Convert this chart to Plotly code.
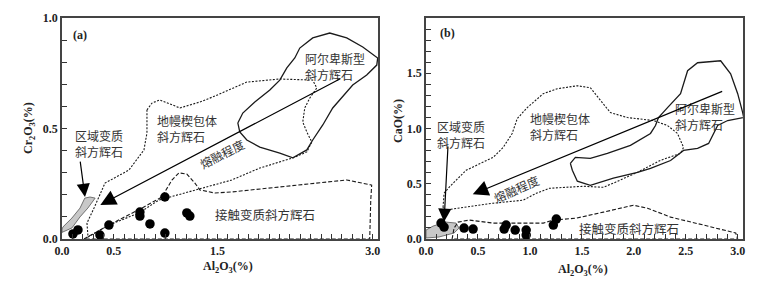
import plotly.graph_objects as go

# ---------------- data: samples ----------------
al_a = [0.106, 0.154, 0.366, 0.453, 0.752, 0.752, 0.849, 0.993, 0.993, 1.205, 1.234]
cr_a = [0.023, 0.041, 0.018, 0.063, 0.122, 0.104, 0.068, 0.190, 0.027, 0.118, 0.104]
al_b = [0.145, 0.174, 0.366, 0.453, 0.771, 0.752, 0.858, 0.964, 0.964, 1.225, 1.254]
cao_b = [0.144, 0.108, 0.099, 0.090, 0.126, 0.090, 0.081, 0.081, 0.036, 0.126, 0.180]

# ---------------- data: field outlines, panel (a) ----------------
alp_a_x = [1.697, 1.745, 1.861, 2.006, 2.102, 2.170, 2.247, 2.295, 2.420, 2.584, 2.748, 2.903, 3.047,
           3.038, 2.941, 2.806, 2.613, 2.517, 2.420, 2.363, 2.228, 2.102, 1.909, 1.784, 1.716, 1.697]
alp_a_y = [0.525, 0.570, 0.620, 0.674, 0.719, 0.774, 0.819, 0.864, 0.910, 0.932, 0.910, 0.869, 0.819,
           0.787, 0.742, 0.697, 0.593, 0.516, 0.448, 0.403, 0.367, 0.389, 0.416, 0.448, 0.484, 0.525]

man_a_x = [0.820, 0.868, 0.945, 1.138, 1.331, 1.456, 1.784, 2.102, 2.420, 2.459, 2.392, 2.343, 2.324,
           2.363, 2.411, 2.363, 2.228, 1.909, 1.639, 1.283, 0.935, 0.743, 0.453, 0.251, 0.241, 0.309,
           0.357, 0.415, 0.646, 0.791, 0.820, 0.820]
man_a_y = [0.584, 0.615, 0.629, 0.593, 0.620, 0.643, 0.710, 0.724, 0.719, 0.683, 0.638, 0.593, 0.529,
           0.484, 0.439, 0.394, 0.367, 0.321, 0.267, 0.222, 0.176, 0.118, 0.063, 0.009, 0.072, 0.140,
           0.190, 0.253, 0.312, 0.403, 0.480, 0.584]

con_a_x = [0.212, 0.453, 0.771, 0.964, 1.061, 1.128, 1.205, 1.283, 1.331, 1.475, 1.639, 2.102, 2.488,
           2.748, 2.989, 2.980, 2.970, 0.212]
con_a_y = [0.000, 0.063, 0.140, 0.190, 0.267, 0.299, 0.294, 0.253, 0.222, 0.208, 0.213, 0.235, 0.253,
           0.267, 0.244, 0.176, 0.000, 0.000]

reg_a_x = [0.000, 0.096, 0.174, 0.250, 0.320, 0.270, 0.220, 0.174, 0.096, 0.010, 0.000, 0.000]
reg_a_y = [0.030, 0.050, 0.100, 0.140, 0.185, 0.190, 0.185, 0.140, 0.095, 0.055, 0.045, 0.030]

# ---------------- data: field outlines, panel (b) ----------------
alp_b_x = [1.389, 1.437, 1.581, 1.745, 1.967, 2.160, 2.208, 2.237, 2.324, 2.449, 2.517, 2.613, 2.835,
           2.931, 2.999, 3.028, 3.047, 3.057, 2.903, 2.806, 2.768, 2.719, 2.613, 2.478, 2.353, 2.160,
           2.035, 1.803, 1.581, 1.456, 1.408, 1.389]
alp_b_y = [0.685, 0.739, 0.730, 0.775, 0.847, 0.955, 1.027, 1.099, 1.189, 1.315, 1.523, 1.595, 1.613,
           1.495, 1.315, 1.225, 1.144, 1.099, 1.072, 1.027, 0.955, 0.865, 0.820, 0.802, 0.710, 0.640,
           0.604, 0.550, 0.486, 0.523, 0.622, 0.685]

man_b_x = [0.164, 0.174, 0.222, 0.386, 0.646, 0.743, 0.829, 0.878, 0.974, 1.128, 1.263, 1.456, 1.581,
           1.678, 1.774, 1.938, 2.189, 2.324, 2.420, 2.478, 2.449, 2.256, 2.035, 1.823, 1.707, 1.514,
           1.283, 1.186, 1.061, 0.935, 0.646, 0.376, 0.174, 0.164]
man_b_y = [0.288, 0.414, 0.468, 0.622, 0.739, 0.829, 0.955, 1.090, 1.189, 1.315, 1.360, 1.387, 1.369,
           1.252, 1.144, 1.099, 1.072, 1.027, 0.955, 0.829, 0.775, 0.712, 0.604, 0.514, 0.468, 0.477,
           0.468, 0.459, 0.414, 0.351, 0.324, 0.288, 0.261, 0.288]

con_b_x = [0.251, 0.270, 0.309, 0.415, 0.646, 0.935, 1.128, 1.225, 1.446, 1.707, 1.996, 2.131, 2.353,
           2.671, 2.980, 2.999, 0.251]
con_b_y = [0.000, 0.099, 0.153, 0.171, 0.144, 0.144, 0.144, 0.171, 0.189, 0.243, 0.306, 0.279, 0.198,
           0.126, 0.054, 0.000, 0.000]

reg_b_x = [0.000, 0.068, 0.193, 0.289, 0.318, 0.270, 0.125, 0.000, 0.000]
reg_b_y = [0.081, 0.117, 0.153, 0.144, 0.099, 0.054, 0.018, 0.009, 0.081]

# ---------------- tick labels ----------------
xlab_a = ["0.0", "0.5", "1.5", "3.0"]
xlab_b = ["0.0", "0.5", "1.0", "1.5", "2.0", "2.5", "3.0"]
ylab_a = ["0.0", "0.5", "1.0"]
ylab_b = ["0.0", "0.5", "1.0", "1.5"]

# ---------------- labels ----------------
lbl_alp = "阿尔卑斯型<br>斜方辉石"
lbl_man = "地幔楔包体<br>斜方辉石"
lbl_reg = "区域变质<br>斜方辉石"
lbl_con = "接触变质斜方辉石"
lbl_melt = "熔融程度"

LINE = "#1a1a1a"
TXT = "#333333"
CJK = "Noto Sans CJK SC"
SERIF = "Liberation Serif"

fig = go.Figure()


def add_panel(xa, ya, alp, man, con, reg, px, py):
    fig.add_trace(go.Scatter(x=reg[0], y=reg[1], xaxis=xa, yaxis=ya, mode="lines", fill="toself",
                             fillcolor="#c8c8c8", line=dict(color="#555555", width=0.8),
                             hoverinfo="skip", showlegend=False))
    fig.add_trace(go.Scatter(x=con[0], y=con[1], xaxis=xa, yaxis=ya, mode="lines",
                             line=dict(color=LINE, width=1.1, dash="4px,2px"),
                             hoverinfo="skip", showlegend=False))
    fig.add_trace(go.Scatter(x=man[0], y=man[1], xaxis=xa, yaxis=ya, mode="lines",
                             line=dict(color=LINE, width=1.1, dash="2px,1.5px"),
                             hoverinfo="skip", showlegend=False))
    fig.add_trace(go.Scatter(x=alp[0], y=alp[1], xaxis=xa, yaxis=ya, mode="lines",
                             line=dict(color=LINE, width=1.3),
                             hoverinfo="skip", showlegend=False))
    fig.add_trace(go.Scatter(x=px, y=py, xaxis=xa, yaxis=ya, mode="markers",
                             marker=dict(color="black", size=9.5),
                             showlegend=False))


add_panel("x", "y", (alp_a_x, alp_a_y), (man_a_x, man_a_y), (con_a_x, con_a_y),
          (reg_a_x, reg_a_y), al_a, cr_a)
add_panel("x2", "y2", (alp_b_x, alp_b_y), (man_b_x, man_b_y), (con_b_x, con_b_y),
          (reg_b_x, reg_b_y), al_b, cao_b)

# the page body has a default 8px margin; the figure is sized to fill the rest
OFF = 8
W, H = 776 - OFF, 289 - OFF


def pxx(p):
    return (p - OFF) / W


def pxy(p):
    return 1 - (p - OFF) / H


ytop, ybot = pxy(18), pxy(239)


def xaxis_cfg(dom, labels, anchor):
    vals = [float(s) for s in labels]
    return dict(domain=dom, range=[0, 3.05], anchor=anchor, automargin=False,
                tickvals=vals, ticktext=labels, ticks="inside", ticklen=5, tickwidth=1,
                tickcolor="#333", showgrid=False, zeroline=False,
                showline=True, mirror=True, linecolor="#444", linewidth=1.6,
                minor=dict(tickvals=[i / 10 for i in range(31)], ticks="inside", ticklen=5,
                           tickwidth=1, tickcolor="#333"),
                tickfont=dict(family=SERIF, size=12, color="#222", weight="bold"))


def yaxis_cfg(labels, top, anchor):
    vals = [float(s) for s in labels]
    n = int(round(top * 10))
    return dict(domain=[ybot, ytop], range=[0, top], anchor=anchor, automargin=False,
                tickvals=vals, ticktext=labels, ticks="inside", ticklen=5, tickwidth=1,
                tickcolor="#333", showgrid=False, zeroline=False,
                showline=True, mirror=True, linecolor="#444", linewidth=1.6,
                minor=dict(tickvals=[i / 10 for i in range(n + 1)], ticks="inside", ticklen=5,
                           tickwidth=1, tickcolor="#333"),
                tickfont=dict(family=SERIF, size=12, color="#222", weight="bold"))


fig.update_layout(
    width=W, height=H, autosize=False,
    margin=dict(l=0, r=0, t=0, b=0, pad=0, autoexpand=False),
    paper_bgcolor="white", plot_bgcolor="white",
    showlegend=False,
    xaxis=xaxis_cfg([pxx(62), pxx(378)], xlab_a, "y"),
    yaxis=yaxis_cfg(ylab_a, 1.0, "x"),
    xaxis2=xaxis_cfg([pxx(426), pxx(743)], xlab_b, "y2"),
    yaxis2=yaxis_cfg(ylab_b, 2.0, "x2"),
)

ann = []


def txt(xr, yr, x, y, text, size=12, angle=0, anchor="left"):
    ann.append(dict(xref=xr, yref=yr, x=x, y=y, text=text, showarrow=False, textangle=angle,
                    xanchor=anchor, yanchor="middle", align="left",
                    font=dict(family=CJK, size=size, color=TXT)))


def arrow(xr, yr, tail, head, size, width=1.2):
    ann.append(dict(xref=xr, yref=yr, axref=xr, ayref=yr, x=head[0], y=head[1], ax=tail[0],
                    ay=tail[1], text="", showarrow=True, arrowhead=2, arrowsize=size,
                    arrowwidth=width, arrowcolor="black", standoff=0, startstandoff=0))


# panel (a)
txt("x", "y", 2.324, 0.780, lbl_alp)
txt("x", "y", 0.897, 0.502, lbl_man)
txt("x", "y", 0.106, 0.430, lbl_reg)
txt("x", "y", 1.456, 0.113, lbl_con, size=12.5)
txt("x", "y", 1.543, 0.385, lbl_melt, angle=-27, anchor="center")
arrow("x", "y", (2.70, 0.729), (0.37, 0.154), 2.6)
arrow("x", "y", (0.174, 0.357), (0.222, 0.19), 2.2)

# panel (b)
txt("x2", "y2", 2.372, 1.108, lbl_alp)
txt("x2", "y2", 0.984, 1.018, lbl_man)
txt("x2", "y2", 0.087, 0.946, lbl_reg)
txt("x2", "y2", 1.456, 0.099, lbl_con, size=12.5)
txt("x2", "y2", 0.868, 0.459, lbl_melt, angle=-24, anchor="center")
arrow("x2", "y2", (2.864, 1.342), (0.45, 0.405), 2.6)
arrow("x2", "y2", (0.212, 0.85), (0.174, 0.155), 2.2)

# panel tags and axis titles
bold = dict(family=SERIF, size=12, color="#222", weight="bold")


def title(xp, yp, text, angle=0):
    ann.append(dict(xref="paper", yref="paper", x=pxx(xp), y=pxy(yp), text=text,
                    showarrow=False, textangle=angle, xanchor="center", yanchor="middle",
                    font=bold))


ann.append(dict(xref="x", yref="y", x=0.174, y=0.923, text="(a)", showarrow=False, font=bold,
                xanchor="center", yanchor="middle"))
ann.append(dict(xref="x2", yref="y2", x=0.203, y=1.865, text="(b)", showarrow=False, font=bold,
                xanchor="center", yanchor="middle"))
title(228, 267, "Al<sub>2</sub>O<sub>3</sub>(%)")
title(583, 270, "Al<sub>2</sub>O<sub>3</sub>(%)")
title(29, 128, "Cr<sub>2</sub>O<sub>3</sub>(%)", -90)
title(398, 121, "CaO(%)", -90)

fig.update_layout(annotations=ann)
fig.write_html("out.html")
